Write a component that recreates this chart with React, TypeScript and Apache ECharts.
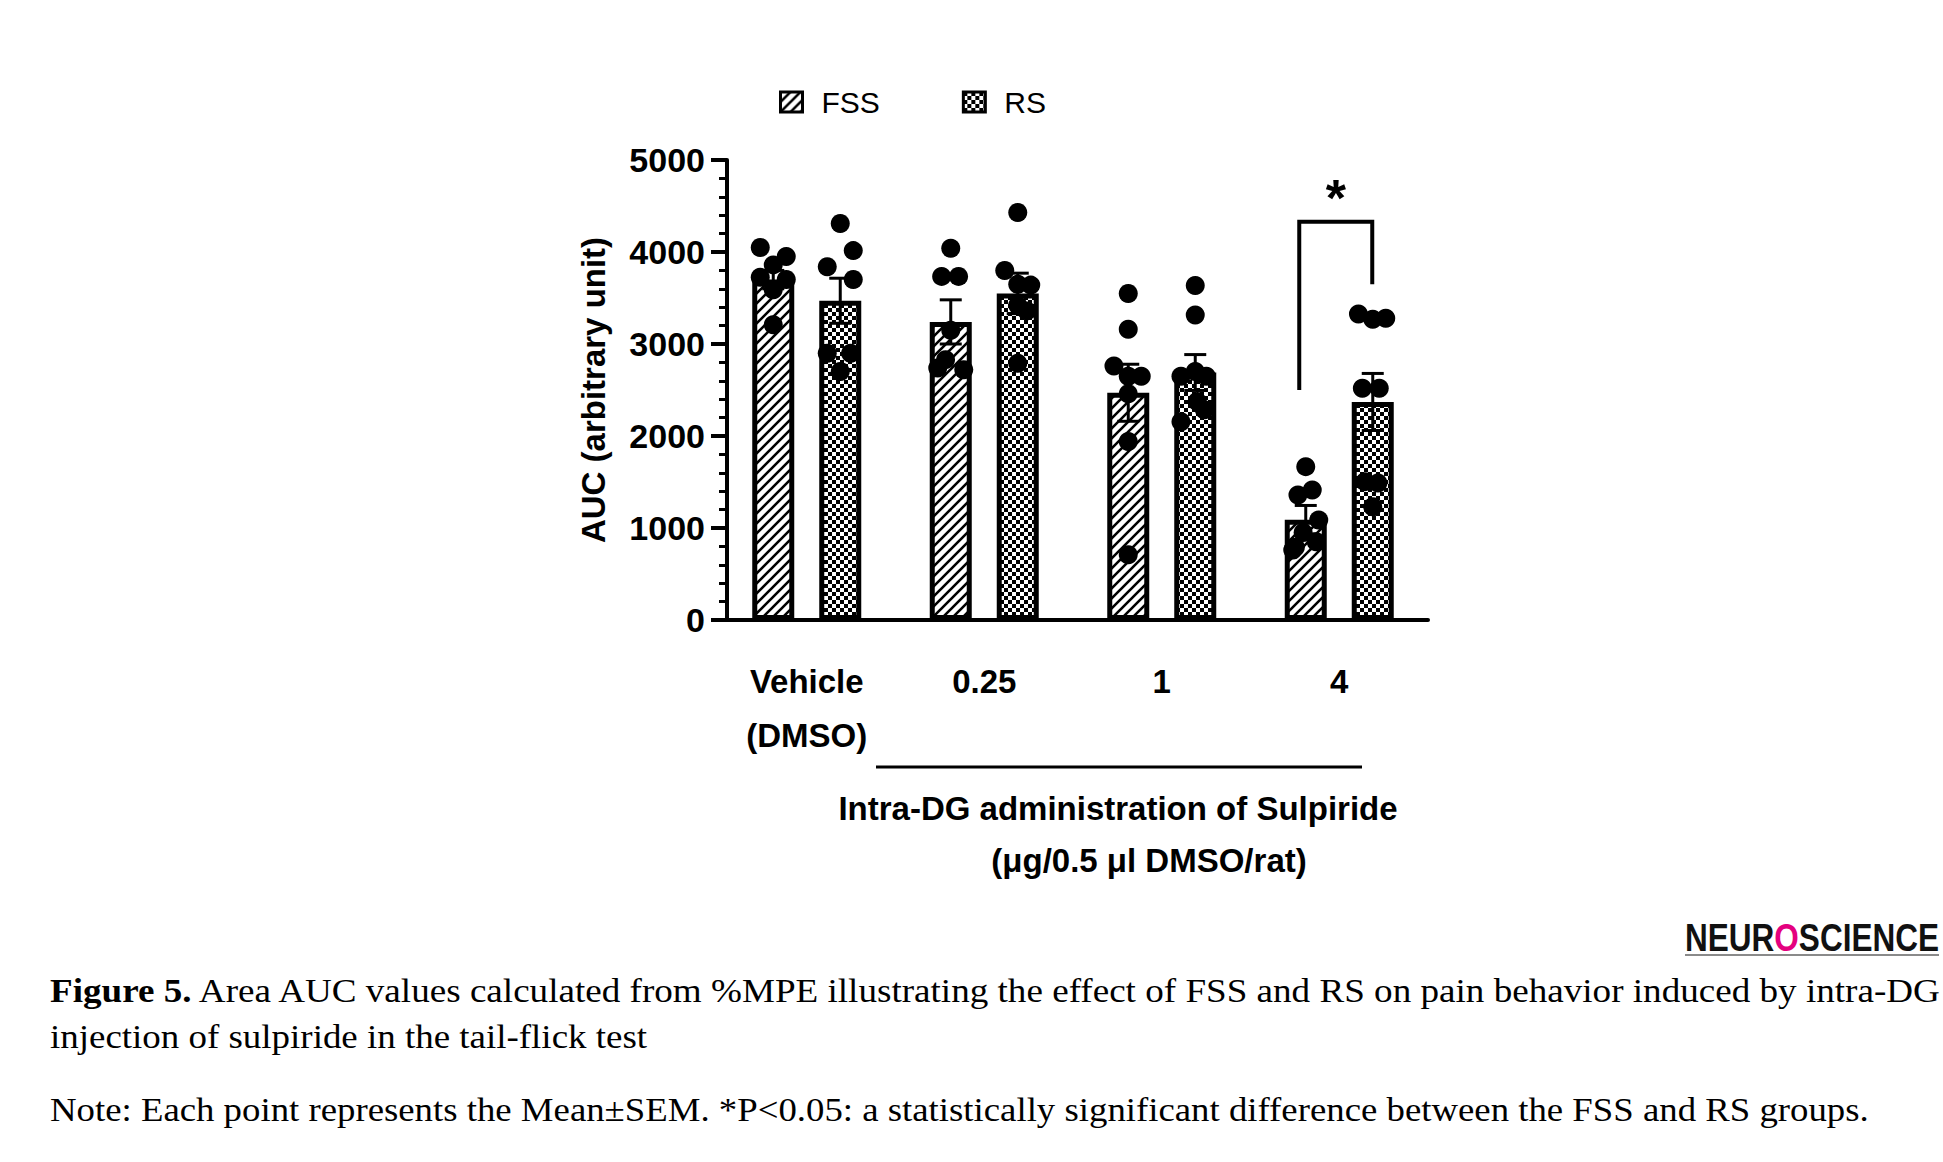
import * as echarts from "echarts";
import { useEffect, useRef } from "react";

const categories = ["Vehicle\n(DMSO)", "0.25", "1", "4"];

// bar heights and SEM
const fssMean = [3700, 3240, 2470, 1090];
const fssSem = [100, 240, 310, 155];
const rsMean = [3470, 3550, 2690, 2370];
const rsSem = [245, 220, 195, 310];

// individual animals, with horizontal jitter (in dot steps)
const fssDots = [
  [4050, 3950, 3860, 3725, 3700, 3590, 3210],
  [4040, 3735, 3735, 3150, 2830, 2740, 2720],
  [3550, 3160, 2760, 2650, 2650, 2460, 1940, 710],
  [1667, 1413, 1359, 1087, 950, 850, 790, 760],
];
const fssJitter = [
  [-1, 1, 0, -1, 1, 0, 0],
  [0, -0.7, 0.6, 0, -0.4, -1, 1],
  [0, 0, -1.1, 1, 0, 0, 0, 0],
  [0, 0.5, -0.6, 1, -0.2, 0.8, -0.8, -1],
];
const rsDots = [
  [4310, 4015, 3840, 3700, 2900, 2900, 2700],
  [4430, 3800, 3650, 3640, 3420, 3360, 2790],
  [3635, 3315, 2700, 2650, 2650, 2375, 2285, 2155],
  [3326, 3268, 3279, 2518, 2518, 1504, 1489, 1232],
];
const rsJitter = [
  [0, 1, -1, 1, -1, 0.8, 0],
  [0, -1, 0, 1, 0, 0.7, 0],
  [0, 0, 0, -1.1, 0.85, 0.15, 0.7, -1.1],
  [-1.1, 0, 1, -0.8, 0.5, -0.6, 0.4, 0],
];

// significance bracket: [category, left foot, top, right foot]
const bracket = [[3, 2500, 4330, 3650]];

const yTicks = { min: 0, max: 5000, interval: 1000 };

const BAR_W = 42;
const BAR_GAP = 25;
const SHIFT = (BAR_W + BAR_GAP) / 2;
const JIT = 13;
const SANS = "'Liberation Sans', Arial, sans-serif";
const SERIF = "'Liberation Serif', 'Times New Roman', serif";
const NARROW = "'Liberation Sans Narrow', 'Liberation Sans', sans-serif";

function hatchTile() {
  const c = document.createElement("canvas");
  c.width = 10;
  c.height = 10;
  const g = c.getContext("2d")!;
  g.fillStyle = "#fff";
  g.fillRect(0, 0, 10, 10);
  g.strokeStyle = "#000";
  g.lineWidth = 2.6;
  g.beginPath();
  g.moveTo(-5, 15);
  g.lineTo(15, -5);
  g.moveTo(-5, 5);
  g.lineTo(5, -5);
  g.moveTo(5, 15);
  g.lineTo(15, 5);
  g.stroke();
  return c;
}

function checkerTile() {
  const c = document.createElement("canvas");
  c.width = 8;
  c.height = 8;
  const g = c.getContext("2d")!;
  g.fillStyle = "#fff";
  g.fillRect(0, 0, 8, 8);
  g.fillStyle = "#000";
  g.fillRect(0, 0, 4, 4);
  g.fillRect(4, 4, 4, 4);
  return c;
}

const App = () => {
  const chartRef = useRef<HTMLDivElement>(null);

  useEffect(() => {
    if (!chartRef.current) return;
    const chart = echarts.init(chartRef.current, null, { renderer: "svg" });

    const hatchFill: any = { image: hatchTile(), repeat: "repeat", imageWidth: 10, imageHeight: 10 };
    const checkerFill: any = { image: checkerTile(), repeat: "repeat", imageWidth: 8, imageHeight: 8 };

    const errData = (mean: number[], sem: number[]) => mean.map((m, i) => [i, m, sem[i]]);
    const dotData = (dots: number[][], jit: number[][]) =>
      dots.flatMap((arr, i) => arr.map((v, k) => [i, v, jit[i][k]]));

    const errRender = (side: number) => (params: any, api: any) => {
      const i = api.value(0);
      const m = api.value(1);
      const s = api.value(2);
      const x = api.coord([i, m])[0] + side * SHIFT;
      const top = api.coord([i, m + s])[1];
      const bot = api.coord([i, m - s])[1];
      const st = { stroke: "#000", lineWidth: 3 };
      return {
        type: "group",
        children: [
          { type: "line", shape: { x1: x, y1: top, x2: x, y2: bot }, style: st },
          { type: "line", shape: { x1: x - 11, y1: top, x2: x + 11, y2: top }, style: st },
          { type: "line", shape: { x1: x - 11, y1: bot, x2: x + 11, y2: bot }, style: st },
        ],
      };
    };

    const dotRender = (side: number) => (params: any, api: any) => {
      const p = api.coord([api.value(0), api.value(1)]);
      return {
        type: "circle",
        shape: { cx: p[0] + side * SHIFT + api.value(2) * JIT, cy: p[1], r: 9.5 },
        style: { fill: "#000" },
      };
    };

    const option: echarts.EChartsOption = {
      animation: false,
      backgroundColor: "#fff",
      legend: {
        left: 774,
        top: 82,
        icon: "rect",
        itemWidth: 22,
        itemHeight: 20,
        itemGap: 82,
        data: ["FSS", "RS"],
        itemStyle: { borderWidth: 3, borderColor: "#000" },
        textStyle: { fontSize: 30, fontFamily: SANS, color: "#000", padding: [0, 0, 0, 14] },
      },
      grid: { left: 718, right: 515, top: 160, bottom: 542 },
      xAxis: {
        type: "category",
        data: categories,
        axisLine: { lineStyle: { color: "#000", width: 4 } },
        axisTick: { alignWithLabel: true, length: 16, lineStyle: { color: "#000", width: 4 } },
        axisLabel: {
          margin: 34,
          lineHeight: 54,
          fontSize: 33,
          fontWeight: "bold",
          fontFamily: SANS,
          color: "#000",
        },
      },
      yAxis: {
        type: "value",
        ...yTicks,
        offset: -9,
        name: "AUC (arbitrary unit)",
        nameLocation: "middle",
        nameGap: 117,
        nameTextStyle: { fontSize: 33, fontWeight: "bold", fontFamily: SANS, color: "#000" },
        axisLine: { show: true, lineStyle: { color: "#000", width: 4 } },
        axisTick: { show: true, length: 16, lineStyle: { color: "#000", width: 4 } },
        minorTick: { show: true, splitNumber: 5, length: 8, lineStyle: { color: "#000", width: 3 } },
        splitLine: { show: false },
        axisLabel: {
          margin: 22,
          fontSize: 34,
          fontWeight: "bold",
          fontFamily: SANS,
          color: "#000",
          formatter: (v: number) => String(v),
        },
      },
      series: [
        {
          name: "FSS",
          type: "bar",
          data: fssMean,
          barWidth: BAR_W,
          barGap: `${(BAR_GAP / BAR_W) * 100}%`,
          itemStyle: { color: hatchFill, borderColor: "#000", borderWidth: 5 },
        },
        {
          name: "RS",
          type: "bar",
          data: rsMean,
          barWidth: BAR_W,
          itemStyle: { color: checkerFill, borderColor: "#000", borderWidth: 5 },
        },
        { type: "custom", z: 3, data: errData(fssMean, fssSem), renderItem: errRender(-1) as any },
        { type: "custom", z: 3, data: errData(rsMean, rsSem), renderItem: errRender(1) as any },
        { type: "custom", z: 4, data: dotData(fssDots, fssJitter), renderItem: dotRender(-1) as any },
        { type: "custom", z: 4, data: dotData(rsDots, rsJitter), renderItem: dotRender(1) as any },
        {
          type: "custom",
          z: 4,
          data: bracket,
          renderItem: ((params: any, api: any) => {
            const i = api.value(0);
            const c = api.coord([i, api.value(2)]);
            const xl = c[0] - 40;
            const xr = c[0] + 33;
            const yl = api.coord([i, api.value(1)])[1];
            const yr = api.coord([i, api.value(3)])[1];
            return {
              type: "group",
              children: [
                {
                  type: "polyline",
                  shape: { points: [[xl, yl], [xl, c[1]], [xr, c[1]], [xr, yr]] },
                  style: { stroke: "#000", lineWidth: 4, fill: "none" },
                },
                {
                  type: "text",
                  x: (xl + xr) / 2,
                  y: c[1] - 50,
                  style: {
                    text: "*",
                    fontSize: 52,
                    fontWeight: "bold",
                    fontFamily: SANS,
                    fill: "#000",
                    align: "center",
                    verticalAlign: "top",
                  },
                },
              ],
            };
          }) as any,
        },
      ],
      graphic: [
        { type: "line", shape: { x1: 876, y1: 767, x2: 1362, y2: 767 }, style: { stroke: "#000", lineWidth: 3 } },
        {
          type: "text",
          x: 1118,
          y: 808,
          style: {
            text: "Intra-DG administration of Sulpiride",
            fontSize: 33,
            fontWeight: "bold",
            fontFamily: SANS,
            fill: "#000",
            align: "center",
            verticalAlign: "middle",
          },
        },
        {
          type: "text",
          x: 1149,
          y: 860,
          style: {
            text: "(μg/0.5 μl DMSO/rat)",
            fontSize: 33,
            fontWeight: "bold",
            fontFamily: SANS,
            fill: "#000",
            align: "center",
            verticalAlign: "middle",
          },
        },
        {
          type: "text",
          x: 1939,
          y: 937,
          scaleX: 0.83,
          style: {
            text: "{a|NEUR}{o|O}{a|SCIENCE}",
            align: "right",
            verticalAlign: "middle",
            rich: {
              a: { fontSize: 38, fontWeight: "bold", fontFamily: NARROW, fill: "#111" },
              o: { fontSize: 38, fontWeight: "bold", fontFamily: NARROW, fill: "#e4007f" },
            },
          },
        },
        { type: "line", shape: { x1: 1685, y1: 955, x2: 1939, y2: 955 }, style: { stroke: "#8a8a8a", lineWidth: 2 } },
        {
          type: "text",
          x: 50,
          y: 991,
          scaleX: 1.125,
          style: {
            text: "{b|Figure 5.} Area AUC values calculated from %MPE illustrating the effect of FSS and RS on pain behavior induced by intra-DG",
            fontSize: 33,
            fontFamily: SERIF,
            fill: "#000",
            verticalAlign: "middle",
            rich: { b: { fontSize: 33, fontWeight: "bold", fontFamily: SERIF, fill: "#000" } },
          },
        },
        {
          type: "text",
          x: 50,
          y: 1037,
          scaleX: 1.12,
          style: {
            text: "injection of sulpiride in the tail-flick test",
            fontSize: 33,
            fontFamily: SERIF,
            fill: "#000",
            verticalAlign: "middle",
          },
        },
        {
          type: "text",
          x: 50,
          y: 1110,
          scaleX: 1.115,
          style: {
            text: "Note: Each point represents the Mean±SEM. *P<0.05: a statistically significant difference between the FSS and RS groups.",
            fontSize: 33,
            fontFamily: SERIF,
            fill: "#000",
            verticalAlign: "middle",
          },
        },
      ],
    };

    chart.setOption(option);
    return () => {
      chart.dispose();
    };
  }, []);

  return (
    <div
      ref={chartRef}
      style={{ position: "absolute", left: 0, top: 0, width: "1943px", height: "1162px" }}
    />
  );
};

export default App;
